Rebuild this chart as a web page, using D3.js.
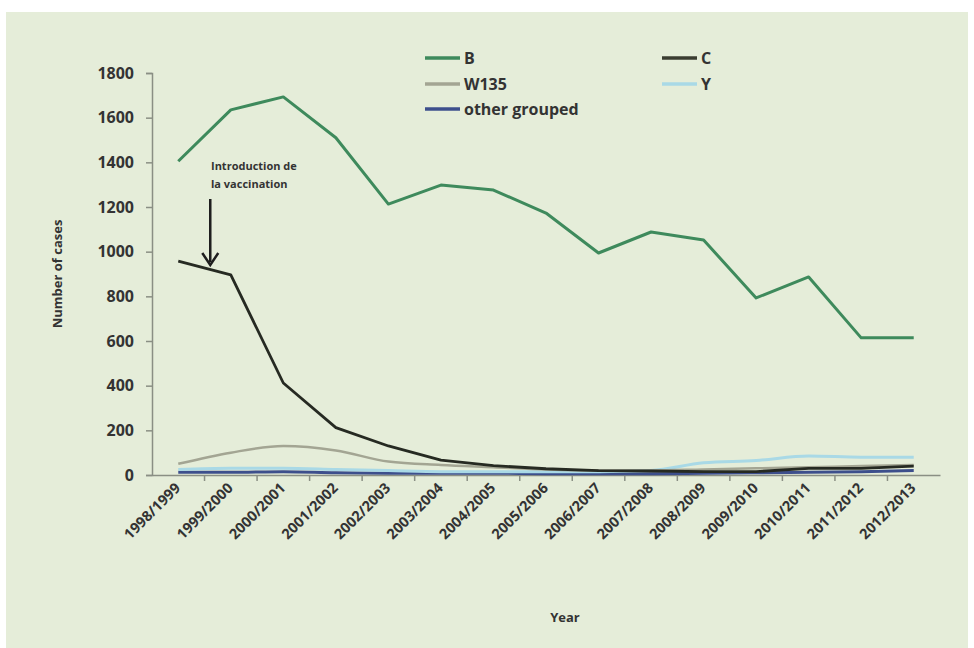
<!DOCTYPE html>
<html><head><meta charset="utf-8">
<script src="https://cdn.jsdelivr.net/npm/d3@7"></script>
<style>
body{margin:0;background:#fff;}
svg text{font-family:"Open Sans","DejaVu Sans",sans-serif;font-weight:700;fill:#333;}
</style></head>
<body><svg id="c" width="974" height="648"></svg>
<script>
const categories = ["1998/1999","1999/2000","2000/2001","2001/2002","2002/2003","2003/2004","2004/2005","2005/2006","2006/2007","2007/2008","2008/2009","2009/2010","2010/2011","2011/2012","2012/2013"];
const seriesB     = [1405,1635,1693,1510,1213,1298,1276,1173,994,1088,1052,793,887,614,614];
const seriesC     = [958,896,412,212,130,67,42,28,20,18,15,15,30,30,40];
const seriesW135  = [50,100,130,110,60,45,35,25,20,20,25,30,35,40,45];
const seriesY     = [25,30,30,25,20,15,15,15,15,20,55,65,85,80,80];
const seriesOther = [12,12,15,10,8,8,8,6,6,6,8,10,12,15,20];
const yTicks = [0,200,400,600,800,1000,1200,1400,1600,1800];

const svg = d3.select("#c");
svg.append("rect").attr("x",6).attr("y",12).attr("width",962).attr("height",636).attr("fill","#e5edd9");

const x = d3.scaleBand().domain(categories).range([152,940]).paddingInner(0).paddingOuter(0);
const y = d3.scaleLinear().domain([0,1800]).range([475,73]);
const cx = d => x(d) + x.bandwidth()/2;

// y axis
const ya = svg.append("g").attr("transform","translate(152,0)")
  .call(d3.axisLeft(y).tickValues(yTicks).tickFormat(d3.format("d")).tickSize(6).tickPadding(12));
ya.select(".domain").attr("stroke","#8a8f84").attr("stroke-width",1.5);
ya.selectAll(".tick line").attr("stroke","#8a8f84").attr("stroke-width",1.5);
ya.selectAll(".tick text").style("font-size","16px").attr("fill","#333");

// x axis
const xa = svg.append("g").attr("transform","translate(0,475)")
  .call(d3.axisBottom(x).tickSize(0).tickPadding(0));
xa.select(".domain").attr("stroke","#8a8f84").attr("stroke-width",1.5);
xa.selectAll(".tick text").style("font-size","14.5px").attr("fill","#333")
  .attr("text-anchor","end").attr("dy",0)
  .attr("transform","translate(3,14) rotate(-45)");
// ticks at band boundaries
svg.append("g").selectAll("line").data(categories.slice(1)).join("line")
  .attr("x1",d=>x(d)).attr("x2",d=>x(d)).attr("y1",475).attr("y2",481)
  .attr("stroke","#8a8f84").attr("stroke-width",1.5);

// titles
svg.append("text").attr("transform","translate(62,274) rotate(-90)").attr("text-anchor","middle")
  .style("font-size","13px").text("Number of cases");
svg.append("text").attr("x",565).attr("y",622).attr("text-anchor","middle").style("font-size","13px").text("Year");

// lines
const series = [
  {name:"other grouped", values:seriesOther, color:"#3d4f8c", w:3, curve:d3.curveMonotoneX},
  {name:"Y", values:seriesY, color:"#a9d9e6", w:3, curve:d3.curveMonotoneX},
  {name:"W135", values:seriesW135, color:"#a3a593", w:2.5, curve:d3.curveMonotoneX},
  {name:"C", values:seriesC, color:"#262a22", w:2.8, curve:d3.curveLinear},
  {name:"B", values:seriesB, color:"#3e8a5c", w:3, curve:d3.curveLinear}
];
series.forEach(s=>{
  const line = d3.line().x((v,i)=>cx(categories[i])).y(v=>y(v)).curve(s.curve);
  svg.append("path").datum(s.values).attr("d",line).attr("fill","none")
    .attr("stroke",s.color).attr("stroke-width",s.w).attr("stroke-linejoin","round");
});

// legend
const legend = [
  {name:"B", color:"#3e8a5c", x:425, y:58},
  {name:"C", color:"#3a3d30", x:662, y:58},
  {name:"W135", color:"#a3a593", x:425, y:84},
  {name:"Y", color:"#a9d9e6", x:662, y:84},
  {name:"other grouped", color:"#3d4f8c", x:425, y:109}
];
const lg = svg.append("g");
legend.forEach(l=>{
  lg.append("line").attr("x1",l.x).attr("x2",l.x+35).attr("y1",l.y).attr("y2",l.y)
    .attr("stroke",l.color).attr("stroke-width",3.5);
  lg.append("text").attr("x",l.x+39).attr("y",l.y+6).style("font-size","16px").text(l.name);
});

// annotation
svg.append("text").attr("x",211).attr("y",170).style("font-size","11px").text("Introduction de");
svg.append("text").attr("x",211).attr("y",188).style("font-size","11px").text("la vaccination");
const ax = cx(categories[0]) + 32;
svg.append("line").attr("x1",ax).attr("x2",ax).attr("y1",199).attr("y2",262)
  .attr("stroke","#1e1e1e").attr("stroke-width",2.5);
svg.append("path").attr("d",`M${ax-8},${253} L${ax},${265} L${ax+8},${253}`)
  .attr("fill","none").attr("stroke","#1e1e1e").attr("stroke-width",2.5);
</script></body></html>
